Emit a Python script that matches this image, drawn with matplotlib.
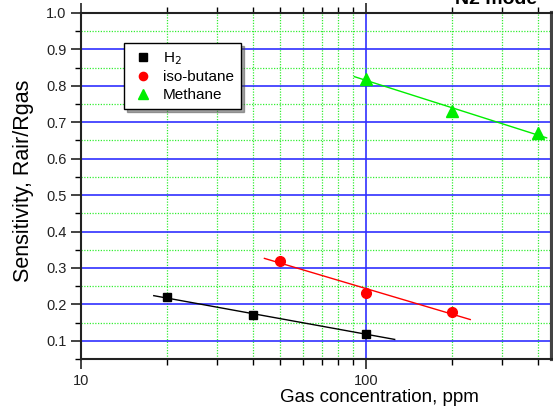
import numpy as np
import matplotlib
matplotlib.use("Agg")
import matplotlib.pyplot as plt
from matplotlib.ticker import FixedLocator, NullFormatter, FixedFormatter

plt.rcParams['font.family'] = ['Liberation Sans', 'DejaVu Sans']

# data
h2_x = [20, 40, 100]
h2_y = [0.22, 0.17, 0.12]
ib_x = [50, 100, 200]
ib_y = [0.32, 0.23, 0.18]
me_x = [100, 200, 400]
me_y = [0.82, 0.73, 0.67]
# fit line ranges (ppm)
h2_fit_range = [18, 126]
ib_fit_range = [44, 232]
me_fit_range = [91, 430]

W, H = 553, 409
fig = plt.figure(figsize=(W / 100, H / 100), dpi=100)
ax = fig.add_axes([81 / W, (H - 359) / H, (552 - 81) / W, (359 - 13) / H])

ax.set_xscale('log')
ax.set_xlim(10, 449)
ax.set_ylim(0.05, 1.0)

# grid
ax.set_yticks(np.round(np.arange(0.1, 1.01, 0.1), 2))
ax.set_yticks(np.round(np.arange(0.05, 1.0, 0.1), 2), minor=True)
ax.xaxis.set_major_locator(FixedLocator([10, 100]))
ax.xaxis.set_major_formatter(FixedFormatter(['10', '100']))
ax.xaxis.set_minor_locator(FixedLocator([20, 30, 40, 50, 60, 70, 80, 90, 200, 300, 400]))
ax.xaxis.set_minor_formatter(NullFormatter())
ax.grid(True, which='major', color='#3030ff', linewidth=1.2)
ax.grid(True, which='minor', color='#33ee33', linewidth=0.9, linestyle=(0, (1, 1.2)))
ax.set_axisbelow(True)


def fit_line(xs, ys, rng):
    b, a = np.polyfit(np.log10(xs), ys, 1)
    xx = np.array(rng, dtype=float)
    return xx, a + b * np.log10(xx)


for xs, ys, rng, c in [(h2_x, h2_y, h2_fit_range, 'black'),
                       (ib_x, ib_y, ib_fit_range, '#ff0000'),
                       (me_x, me_y, me_fit_range, '#00ee00')]:
    fx, fy = fit_line(xs, ys, rng)
    ax.plot(fx, fy, color=c, linewidth=1.0, zorder=3)

ax.plot(h2_x, h2_y, 's', color='black', markersize=6, linestyle='none', label='H$_2$', zorder=4)
ax.plot(ib_x, ib_y, 'o', color='#ff0000', markersize=7, linestyle='none', label='iso-butane', zorder=4)
ax.plot(me_x, me_y, '^', color='#00ee00', markersize=8, linestyle='none', label='Methane', zorder=4)

for s in ax.spines.values():
    s.set_color('#222222')
    s.set_linewidth(1.5)
ax.spines['right'].set_linewidth(3)
ax.spines['right'].set_color('#444444')

ax.tick_params(which='major', direction='out', length=7, width=1.2, labelsize=10.5, colors='#222222')
ax.tick_params(which='minor', direction='out', length=4, width=1.0)
ax.tick_params(axis='x', which='both', top=True)
ax.tick_params(axis='y', which='both', right=True)

ax.set_xlabel('Gas concentration, ppm', fontsize=13.5)
ax.xaxis.set_label_coords(0.633, -0.087)
ax.set_ylabel('Sensitivity, Rair/Rgas', fontsize=15.5)
ax.yaxis.set_label_coords(-0.099, 0.514)

leg = ax.legend(loc='upper left', bbox_to_anchor=(0.0913, 0.913), fontsize=11,
                frameon=True, fancybox=False, shadow=True, handletextpad=0.5,
                borderpad=0.45, labelspacing=0.25, handlelength=1.6,
                borderaxespad=0, markerscale=0.85)
leg.get_frame().set_edgecolor('black')
leg.get_frame().set_linewidth(1.0)

fig.text(455 / W, 1.0, 'N2 mode', fontsize=14, fontweight='bold', ha='left', va='center')

fig.savefig('out.png', dpi=100)
